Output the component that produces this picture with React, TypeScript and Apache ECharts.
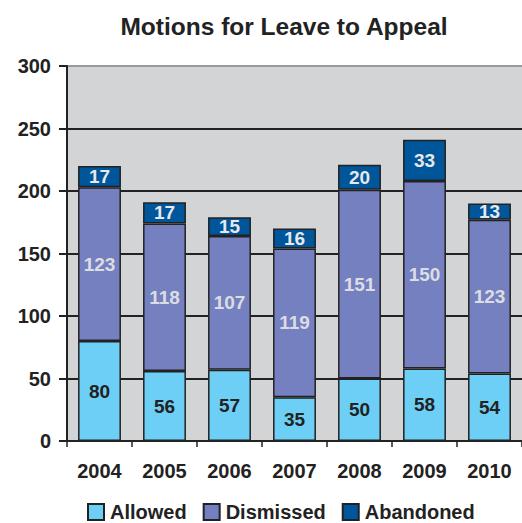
import React, { useEffect, useRef } from "react";
import * as echarts from "echarts";

const years = ["2004", "2005", "2006", "2007", "2008", "2009", "2010"];
const allowed = [80, 56, 57, 35, 50, 58, 54];
const dismissed = [123, 118, 107, 119, 151, 150, 123];
const abandoned = [17, 17, 15, 16, 20, 33, 13];

const FONT = "'Liberation Sans', Arial, sans-serif";

export default function App() {
  const ref = useRef<HTMLDivElement>(null);
  useEffect(() => {
    if (!ref.current) return;
    const chart = echarts.init(ref.current, undefined, { renderer: "svg" });
    const labelBase = {
      show: true,
      position: "inside",
      fontFamily: FONT,
      fontWeight: "bold",
      fontSize: 19,
    };
    const itemBase = { borderColor: "#222", borderWidth: 1.5 };
    chart.setOption({
      animation: false,
      backgroundColor: "#fff",
      title: {
        text: "Motions for Leave to Appeal",
        left: 279,
        textAlign: "center",
        top: 9,
        textStyle: { fontFamily: FONT, fontWeight: "bold", fontSize: 24.5, color: "#222" },
      },
      legend: {
        top: 502,
        left: 87,
        padding: 0,
        itemWidth: 16,
        itemHeight: 16,
        itemGap: 16,
        icon: "rect",
        textStyle: { fontFamily: FONT, fontWeight: "bold", fontSize: 20, lineHeight: 20, color: "#222", padding: [0, 0, 0, 1] },
        data: ["Allowed", "Dismissed", "Abandoned"],
      },
      grid: { left: 67, top: 66, width: 459, height: 375, backgroundColor: "#d3d4d6", show: true, borderWidth: 0 },
      xAxis: {
        type: "category",
        data: years,
        axisLine: { lineStyle: { color: "#222", width: 2 } },
        axisTick: { show: true, length: 6, lineStyle: { color: "#222", width: 1.5 } },
        axisLabel: { fontFamily: FONT, fontWeight: "bold", fontSize: 20, color: "#222", margin: 20 },
      },
      yAxis: {
        type: "value",
        min: 0,
        max: 300,
        interval: 50,
        axisLine: { show: true, lineStyle: { color: "#222", width: 2 } },
        axisTick: { show: true, length: 8, lineStyle: { color: "#222", width: 2 } },
        axisLabel: { fontFamily: FONT, fontWeight: "bold", fontSize: 20, color: "#222", margin: 16 },
        splitLine: {
          show: true,
          lineStyle: { color: ["#222", "#222", "#222", "#222", "#222", "#222", "#999"], width: 2 },
        },
      },
      series: [
        {
          name: "Allowed",
          type: "bar",
          stack: "t",
          barWidth: "66%",
          data: allowed,
          itemStyle: { ...itemBase, color: "#6ecff6" },
          label: { ...labelBase, color: "#222" },
        },
        {
          name: "Dismissed",
          type: "bar",
          stack: "t",
          data: dismissed,
          itemStyle: { ...itemBase, color: "#7480c0" },
          label: { ...labelBase, color: "#dcdde2" },
        },
        {
          name: "Abandoned",
          type: "bar",
          stack: "t",
          data: abandoned,
          itemStyle: { ...itemBase, color: "#00569a" },
          label: { ...labelBase, color: "#e8e8ec" },
        },
      ],
    });
    return () => chart.dispose();
  }, []);
  return <div ref={ref} style={{ position: "fixed", left: 0, top: 0, width: 522, height: 523 }} />;
}
